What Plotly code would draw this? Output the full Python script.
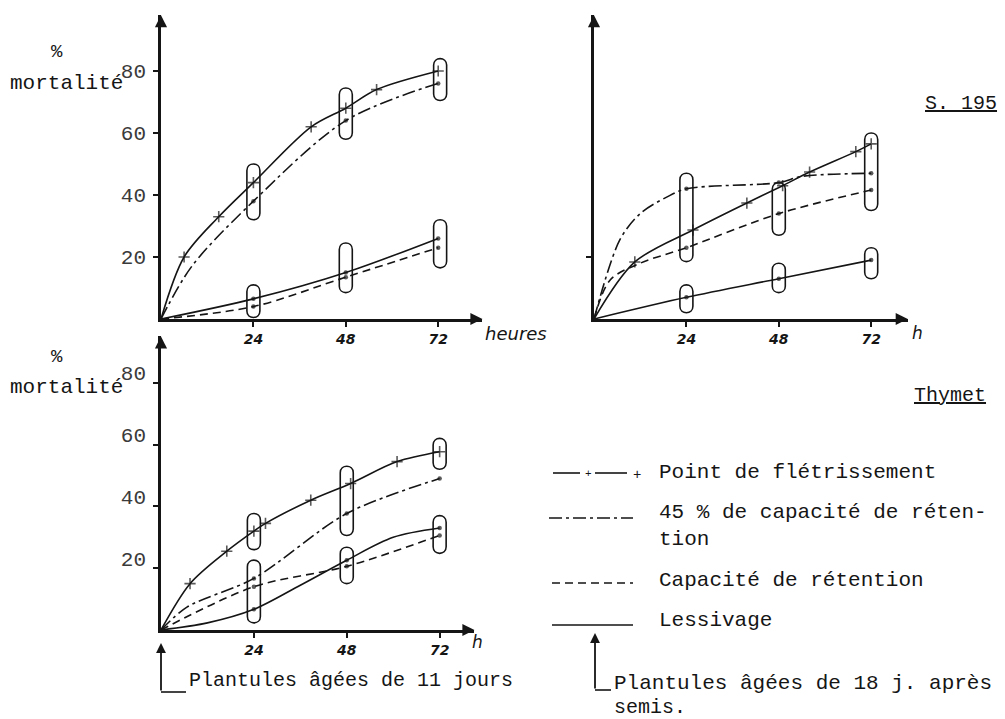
import plotly.graph_objects as go

W, H = 1005, 719

# ---------------- data (hours, % mortalité) ----------------
# Top-left panel
tl_fletr_x = [0, 6, 15, 24, 39, 48, 56, 72]
tl_fletr_y = [0, 20, 33, 44, 62, 68, 74, 80]
tl_45_x = [0, 8, 24, 48, 72]
tl_45_y = [0, 17, 38, 64, 76]
tl_cap_x = [0, 24, 48, 72]
tl_cap_y = [0, 4, 13.5, 23]
tl_less_x = [0, 24, 48, 72]
tl_less_y = [0, 6.5, 15, 26]

# Top-right panel
tr_fletr_x = [0, 10.6, 25.7, 39.7, 49, 56, 68, 72]
tr_fletr_y = [0, 18.4, 28.7, 37.4, 43, 47.4, 54, 56.5]
tr_45_x = [0, 6.7, 12, 19, 24, 48, 54, 72]
tr_45_y = [0, 25.5, 34, 39.4, 42, 44, 46, 47]
tr_cap_x = [0, 4.2, 12, 24, 48, 72]
tr_cap_y = [0, 12.6, 18, 23, 34, 41.6]
tr_less_x = [0, 24, 48, 72]
tr_less_y = [0, 7, 13, 19]

# Bottom-left panel
bl_fletr_x = [0, 7.5, 17, 24, 27, 38.7, 49, 61, 72]
bl_fletr_y = [0, 15, 25.5, 32, 34.5, 42, 47.4, 54.5, 57.7]
bl_45_x = [0, 6.7, 24, 48, 72]
bl_45_y = [0, 7.4, 16.7, 37.7, 49]
bl_cap_x = [0, 24, 48, 72]
bl_cap_y = [0, 14, 20.6, 30.6]
bl_less_x = [0, 12, 24, 36, 48, 60, 72]
bl_less_y = [0, 2.3, 6.7, 14.5, 22.6, 30, 33]

# groups circled on the figure: (hour, low %, high %)
tl_groups = [(24, 32, 50), (24, 0.5, 11), (48, 58, 74.5), (48, 8.5, 24.5), (72.5, 70.5, 84), (72.5, 16.5, 32)]
tr_groups = [(24, 18.5, 47), (24, 2, 11), (48, 27, 44), (48, 8.5, 18), (72, 35, 60), (72, 13, 23)]
bl_groups = [(24, 26, 37.7), (24, 2.3, 22.6), (48, 30.6, 53), (48, 15, 26.8), (72, 52, 62), (72, 24.8, 37)]

x_ticks = [24, 48, 72]
y_ticks = [20, 40, 60, 80]

legend_labels = ["Point de flétrissement", "45 % de capacité de réten-<br>tion",
                 "Capacité de rétention", "Lessivage"]

# ---------------- styles ----------------
INK = "#151515"
MONO = "Liberation Mono, Courier New, monospace"
HAND = "DejaVu Sans, sans-serif"
DASH_45 = "13px,4px,3px,4px"
DASH_CAP = "8px,5px"


def px_x(p):
    return p / W


def px_y(p):
    return 1 - p / H


# panel geometry (pixel origin, pixel per unit)
panels = {
    "tl": dict(ox=161, oy=319, sx=3.85, sy=3.1, xmax=83.5, ymax=98),
    "tr": dict(ox=594, oy=319, sx=3.85, sy=3.1, xmax=81.5, ymax=98),
    "bl": dict(ox=161, oy=630, sx=3.87, sy=3.09, xmax=81, ymax=95),
}
axis_ids = {"tl": ("x", "y"), "tr": ("x2", "y2"), "bl": ("x3", "y3")}

fig = go.Figure()


def add_series(key, xs, ys, dash, kind):
    xa, ya = axis_ids[key]
    if kind == "fletr":
        sizes = [0 if x == 0 else 8 for x in xs]
        marker = dict(symbol="cross-thin", size=sizes, line=dict(width=1.6, color=INK), color=INK)
    else:
        sizes = [4.5 if x in (24, 48, 72) else 0 for x in xs]
        marker = dict(symbol="circle", size=sizes, color=INK, line=dict(width=0))
    fig.add_trace(go.Scatter(
        x=xs, y=ys, xaxis=xa, yaxis=ya, mode="lines+markers",
        line=dict(color=INK, width=1.6, dash=dash, shape="spline", smoothing=0.9),
        marker=marker, showlegend=False, hoverinfo="x+y"))


for key, series in {
    "tl": [(tl_fletr_x, tl_fletr_y, "solid", "fletr"), (tl_45_x, tl_45_y, DASH_45, "o"),
           (tl_cap_x, tl_cap_y, DASH_CAP, "o"), (tl_less_x, tl_less_y, "solid", "o")],
    "tr": [(tr_fletr_x, tr_fletr_y, "solid", "fletr"), (tr_45_x, tr_45_y, DASH_45, "o"),
           (tr_cap_x, tr_cap_y, DASH_CAP, "o"), (tr_less_x, tr_less_y, "solid", "o")],
    "bl": [(bl_fletr_x, bl_fletr_y, "solid", "fletr"), (bl_45_x, bl_45_y, DASH_45, "o"),
           (bl_cap_x, bl_cap_y, DASH_CAP, "o"), (bl_less_x, bl_less_y, "solid", "o")],
}.items():
    for xs, ys, dash, kind in series:
        add_series(key, xs, ys, dash, kind)

shapes = []
annotations = []


def stadium(key, x, ylo, yhi):
    p = panels[key]
    xa, ya = axis_ids[key]
    half_px = 6.5
    w = half_px / p["sx"]
    r = half_px / p["sy"]
    k = 4.0 / 3.0 * r
    a, b = ylo + r, yhi - r
    path = (f"M {x-w},{a} L {x-w},{b} C {x-w},{b+k} {x+w},{b+k} {x+w},{b} "
            f"L {x+w},{a} C {x+w},{a-k} {x-w},{a-k} {x-w},{a} Z")
    shapes.append(dict(type="path", path=path, xref=xa, yref=ya,
                       line=dict(color=INK, width=1.6), layer="above"))


for key, groups in (("tl", tl_groups), ("tr", tr_groups), ("bl", bl_groups)):
    for g in groups:
        stadium(key, *g)

layout_axes = {}
for i, key in enumerate(["tl", "tr", "bl"]):
    p = panels[key]
    xd = [px_x(p["ox"]), px_x(p["ox"] + p["xmax"] * p["sx"])]
    yd = [px_y(p["oy"]), px_y(p["oy"] - p["ymax"] * p["sy"])]
    suffix = "" if i == 0 else str(i + 1)
    xa, ya = axis_ids[key]
    layout_axes["xaxis" + suffix] = dict(
        domain=xd, range=[0, p["xmax"]], anchor=ya, showline=True, linewidth=2.6,
        linecolor=INK, showgrid=False, zeroline=False, ticks="outside", ticklen=5,
        tickwidth=1.5, tickcolor=INK, tickvals=x_ticks, ticktext=[str(t) for t in x_ticks],
        tickfont=dict(family=HAND, size=14, color=INK, style="italic", weight="bold"),
        fixedrange=True)
    if key == "tr":
        yt, ytt = [20], [""]
    else:
        yt, ytt = y_ticks, [str(t) for t in y_ticks]
    layout_axes["yaxis" + suffix] = dict(
        domain=yd, range=[0, p["ymax"]], anchor=xa, showline=True, linewidth=2.6,
        linecolor=INK, showgrid=False, zeroline=False, ticks="outside", ticklen=5,
        tickwidth=1.5, tickcolor=INK, tickvals=yt, ticktext=ytt, ticklabelstandoff=3,
        ticklabelshift=-10 if key == "bl" else 0,
        tickfont=dict(family=MONO, size=21, color="#3a3a3a"), fixedrange=True)
    # axis arrowheads
    annotations.append(dict(x=p["xmax"], y=0, xref=xa, yref=ya, text="", showarrow=True,
                            ax=-12, ay=0, arrowhead=2, arrowsize=1.1, arrowwidth=2.2,
                            arrowcolor=INK))
    annotations.append(dict(x=0, y=p["ymax"], xref=xa, yref=ya, text="", showarrow=True,
                            ax=0, ay=12, arrowhead=2, arrowsize=1.1, arrowwidth=2.2,
                            arrowcolor=INK))


def text(xp, yp, s, size=21, family=MONO, anchor="left", **font_extra):
    annotations.append(dict(x=px_x(xp), y=px_y(yp), xref="paper", yref="paper", text=s,
                            showarrow=False, xanchor=anchor, yanchor="middle",
                            font=dict(family=family, size=size, color=INK, **font_extra)))


# y-axis titles
text(57, 52, "%", size=19, anchor="center")
text(66, 83, "mortalité", anchor="center")
text(57, 357, "%", size=19, anchor="center")
text(66, 387, "mortalité", anchor="center")

# x-axis titles (handwritten)
text(483, 333, "heures", size=18, family=HAND, style="italic")
text(910, 333, "h", size=17, family=HAND, style="italic")
text(470, 642, "h", size=17, family=HAND, style="italic")

# panel names
text(961, 104, "S. 195", size=20, anchor="center", lineposition="under")
text(950, 395, "Thymet", size=20, anchor="center", lineposition="under")

# legend
leg_x0, leg_x1, leg_tx = 552, 633, 657
leg_y = [473, 518, 583, 625]
text_y = [472, 526, 580, 620]
shapes.append(dict(type="line", xref="paper", yref="paper", x0=px_x(553), x1=px_x(580),
                   y0=px_y(leg_y[0]), y1=px_y(leg_y[0]), line=dict(color=INK, width=1.6)))
shapes.append(dict(type="line", xref="paper", yref="paper", x0=px_x(595), x1=px_x(627),
                   y0=px_y(leg_y[0]), y1=px_y(leg_y[0]), line=dict(color=INK, width=1.6)))
text(588, 474, "+", size=11, anchor="center")
text(637, 475, "+", size=14, anchor="center")
shapes.append(dict(type="line", xref="paper", yref="paper", x0=px_x(leg_x0 - 3), x1=px_x(leg_x1),
                   y0=px_y(leg_y[1]), y1=px_y(leg_y[1]), line=dict(color=INK, width=1.6, dash=DASH_45)))
shapes.append(dict(type="line", xref="paper", yref="paper", x0=px_x(leg_x0), x1=px_x(leg_x1),
                   y0=px_y(leg_y[2]), y1=px_y(leg_y[2]), line=dict(color=INK, width=1.6, dash=DASH_CAP)))
shapes.append(dict(type="line", xref="paper", yref="paper", x0=px_x(leg_x0), x1=px_x(leg_x1),
                   y0=px_y(leg_y[3]), y1=px_y(leg_y[3]), line=dict(color=INK, width=1.6)))
for lbl, ty in zip(legend_labels, text_y):
    annotations.append(dict(x=px_x(leg_tx), y=px_y(ty), xref="paper", yref="paper", text=lbl,
                            showarrow=False, xanchor="left", yanchor="middle", align="left",
                            font=dict(family=MONO, size=21, color=INK)))

# seedling age arrows
annotations.append(dict(x=px_x(161), y=px_y(643), xref="paper", yref="paper", text="",
                        showarrow=True, ax=0, ay=49, arrowhead=2, arrowsize=1.1,
                        arrowwidth=1.8, arrowcolor=INK))
shapes.append(dict(type="line", xref="paper", yref="paper", x0=px_x(161), x1=px_x(186),
                   y0=px_y(692), y1=px_y(692), line=dict(color=INK, width=1.6)))
text(187, 680, "Plantules âgées de 11 jours", size=20)

annotations.append(dict(x=px_x(595), y=px_y(633), xref="paper", yref="paper", text="",
                        showarrow=True, ax=0, ay=57, arrowhead=2, arrowsize=1.1,
                        arrowwidth=1.8, arrowcolor=INK))
shapes.append(dict(type="line", xref="paper", yref="paper", x0=px_x(595), x1=px_x(611),
                   y0=px_y(690), y1=px_y(690), line=dict(color=INK, width=1.6)))
text(612, 683, "Plantules âgées de 18 j. après", size=21)
text(612, 707, "semis.", size=20)

fig.update_layout(
    width=W, height=H, margin=dict(l=0, r=0, t=0, b=0),
    paper_bgcolor="white", plot_bgcolor="white", showlegend=False,
    shapes=shapes, annotations=annotations, **layout_axes)

fig.write_html("out.html")
